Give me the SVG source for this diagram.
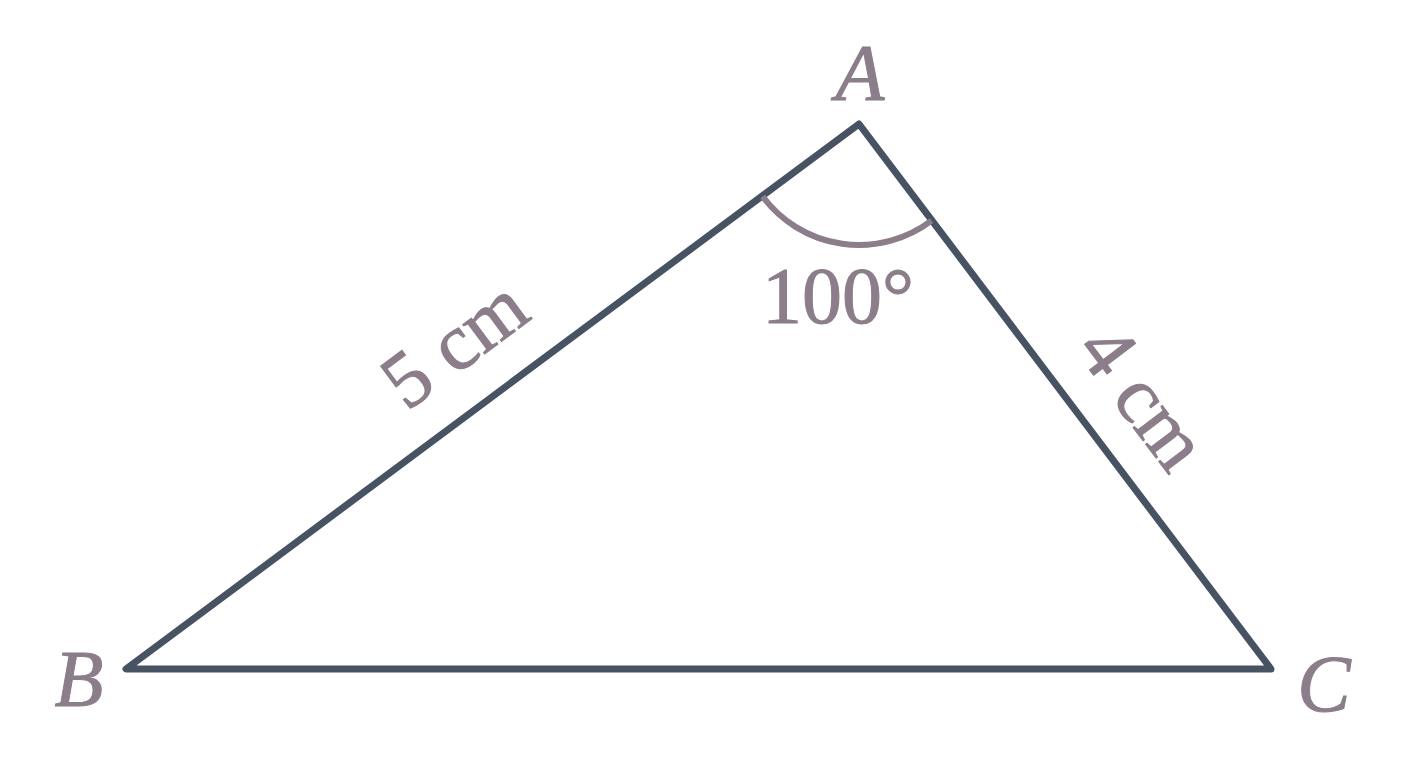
<svg xmlns="http://www.w3.org/2000/svg" width="1408" height="768" viewBox="0 0 1408 768">
<style>
.lbl{font-family:"Liberation Serif","Times New Roman",serif;fill:#8b7d89;stroke:#8b7d89;stroke-width:1;font-size:80px}
.it{font-style:italic}
</style>
<rect width="1408" height="768" fill="#ffffff"/>
<g id="triangle">
<polygon points="859,124 126,669 1271,669" fill="none" stroke="#475263" stroke-width="7" stroke-linejoin="round"/>
</g>
<g id="angle">
<path d="M762.7,196.5 A120,120 0 0 0 931.5,220.7" fill="none" stroke="#8b7d89" stroke-width="6"/>
<text class="lbl" x="838" y="323" text-anchor="middle">100°</text>
</g>
<g id="labels">
<text class="lbl it" x="860" y="100" text-anchor="middle">A</text>
<text class="lbl it" x="79" y="706" text-anchor="middle">B</text>
<text class="lbl it" x="1324" y="711" text-anchor="middle">C</text>
<text class="lbl" text-anchor="middle" transform="translate(470,365) rotate(-36.6)">5 cm</text>
<text class="lbl" text-anchor="middle" transform="translate(1122,413) rotate(52.9)">4 cm</text>
</g>
</svg>
